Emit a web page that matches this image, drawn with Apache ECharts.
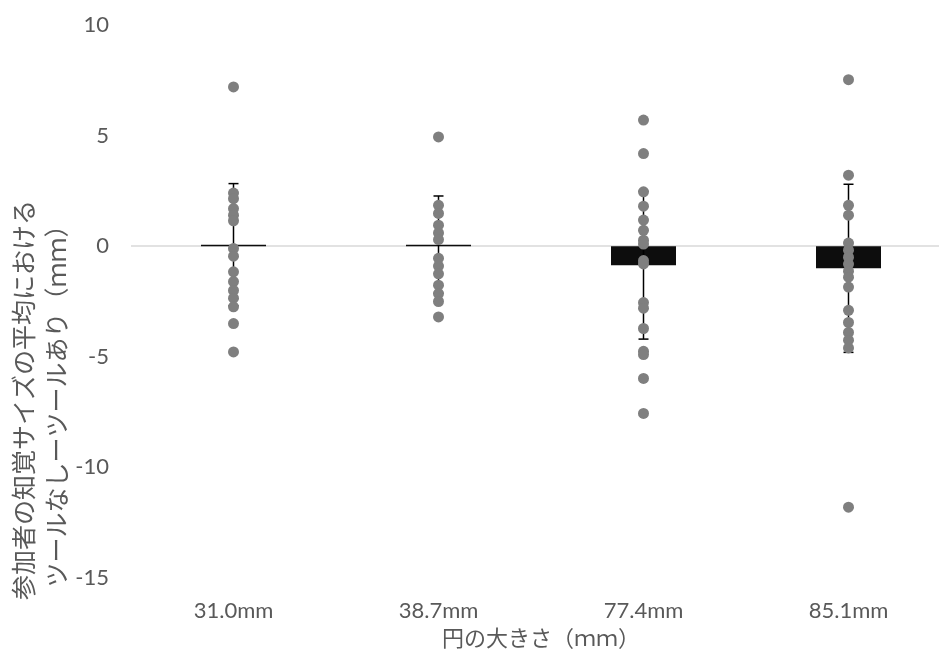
<!DOCTYPE html>
<html>
<head>
<meta charset="utf-8">
<script src="https://cdn.jsdelivr.net/npm/echarts@6/dist/echarts.min.js"></script>
<style>
  html, body { margin: 0; padding: 0; background: #fff; }
  #main { width: 939px; height: 652px; }
</style>
</head>
<body>
<div id="main"></div>
<script>
var categories = ['31.0mm', '38.7mm', '77.4mm', '85.1mm'];
// 平均値（棒）と標準偏差（誤差範囲）
var meanValues = [0.07, 0.07, -0.86, -1.0];
var sdValues = [2.76, 2.2, 3.34, 3.8];
// 各参加者の値
var points31 = [7.2, 2.4, 2.15, 1.7, 1.4, 1.15, -0.1, -0.45, -1.16, -1.6, -2.0, -2.35, -2.74, -3.5, -4.78];
var points38 = [4.94, 1.85, 1.48, 0.95, 0.6, 0.3, -0.55, -0.9, -1.25, -1.76, -2.14, -2.5, -3.2];
var points77 = [5.7, 4.19, 2.46, 1.81, 1.18, 0.72, 0.27, 0.1, -0.65, -0.8, -2.55, -2.8, -3.72, -4.75, -4.9, -5.98, -7.56];
var points85 = [7.53, 3.21, 1.85, 1.4, 0.14, -0.18, -0.5, -0.81, -1.13, -1.4, -1.85, -2.9, -3.45, -3.9, -4.25, -4.6, -11.8];
var yTicks = [-15, -10, -5, 0, 5, 10];

var pointGroups = [points31, points38, points77, points85];
var scatterData = [];
pointGroups.forEach(function (arr, i) {
    arr.forEach(function (v) { scatterData.push([i, v]); });
});
var errorData = meanValues.map(function (m, i) { return [i, m, sdValues[i]]; });

var textColor = '#595959';
var chart = echarts.init(document.getElementById('main'));
var option = {
    animation: false,
    grid: { left: 131, right: -12, top: 25, bottom: 74, outerBoundsMode: 'none', containLabel: false },
    xAxis: {
        type: 'category',
        data: categories,
        axisLine: { show: false },
        axisTick: { show: false },
        axisLabel: { color: textColor, fontFamily: 'Lato', fontSize: 22, margin: 22 },
        name: '円の大きさ（ｍｍ）',
        nameLocation: 'middle',
        nameGap: 48,
        nameTextStyle: { color: textColor, fontFamily: 'Noto Sans CJK JP', fontSize: 22 }
    },
    yAxis: {
        type: 'value',
        min: yTicks[0],
        max: yTicks[yTicks.length - 1],
        interval: 5,
        axisLine: { show: false },
        axisTick: { show: false },
        axisLabel: { color: textColor, fontFamily: 'Lato', fontSize: 22, margin: 22 },
        splitLine: {
            show: true,
            // 0 の線だけ表示
            lineStyle: { color: ['rgba(0,0,0,0)', 'rgba(0,0,0,0)', 'rgba(0,0,0,0)', '#d9d9d9', 'rgba(0,0,0,0)', 'rgba(0,0,0,0)'], width: 1.5 }
        }
    },
    graphic: [{
        type: 'text',
        x: 40,
        y: 400,
        rotation: Math.PI / 2,
        style: {
            text: '参加者の知覚サイズの平均における\nツールなしーツールあり（ｍｍ）',
            font: '25px "Noto Sans CJK JP"',
            fill: textColor,
            align: 'center',
            verticalAlign: 'middle',
            lineHeight: 33
        }
    }],
    series: [
        {
            type: 'bar',
            data: meanValues,
            barWidth: 65,
            itemStyle: { color: '#0d0d0d' },
            z: 2
        },
        {
            type: 'custom',
            data: errorData,
            z: 3,
            renderItem: function (params, api) {
                var x = api.value(0), m = api.value(1), e = api.value(2);
                var top = api.coord([x, m + e]);
                var bot = api.coord([x, m - e]);
                var st = { stroke: '#000', lineWidth: 1.5 };
                return {
                    type: 'group',
                    children: [
                        { type: 'line', shape: { x1: top[0], y1: top[1], x2: bot[0], y2: bot[1] }, style: st },
                        { type: 'line', shape: { x1: top[0] - 5, y1: top[1], x2: top[0] + 5, y2: top[1] }, style: st },
                        { type: 'line', shape: { x1: bot[0] - 5, y1: bot[1], x2: bot[0] + 5, y2: bot[1] }, style: st }
                    ]
                };
            }
        },
        {
            type: 'scatter',
            data: scatterData,
            symbolSize: 11,
            itemStyle: { color: '#7f7f7f', opacity: 1 },
            z: 4
        }
    ]
};
chart.setOption(option);
</script>
</body>
</html>
